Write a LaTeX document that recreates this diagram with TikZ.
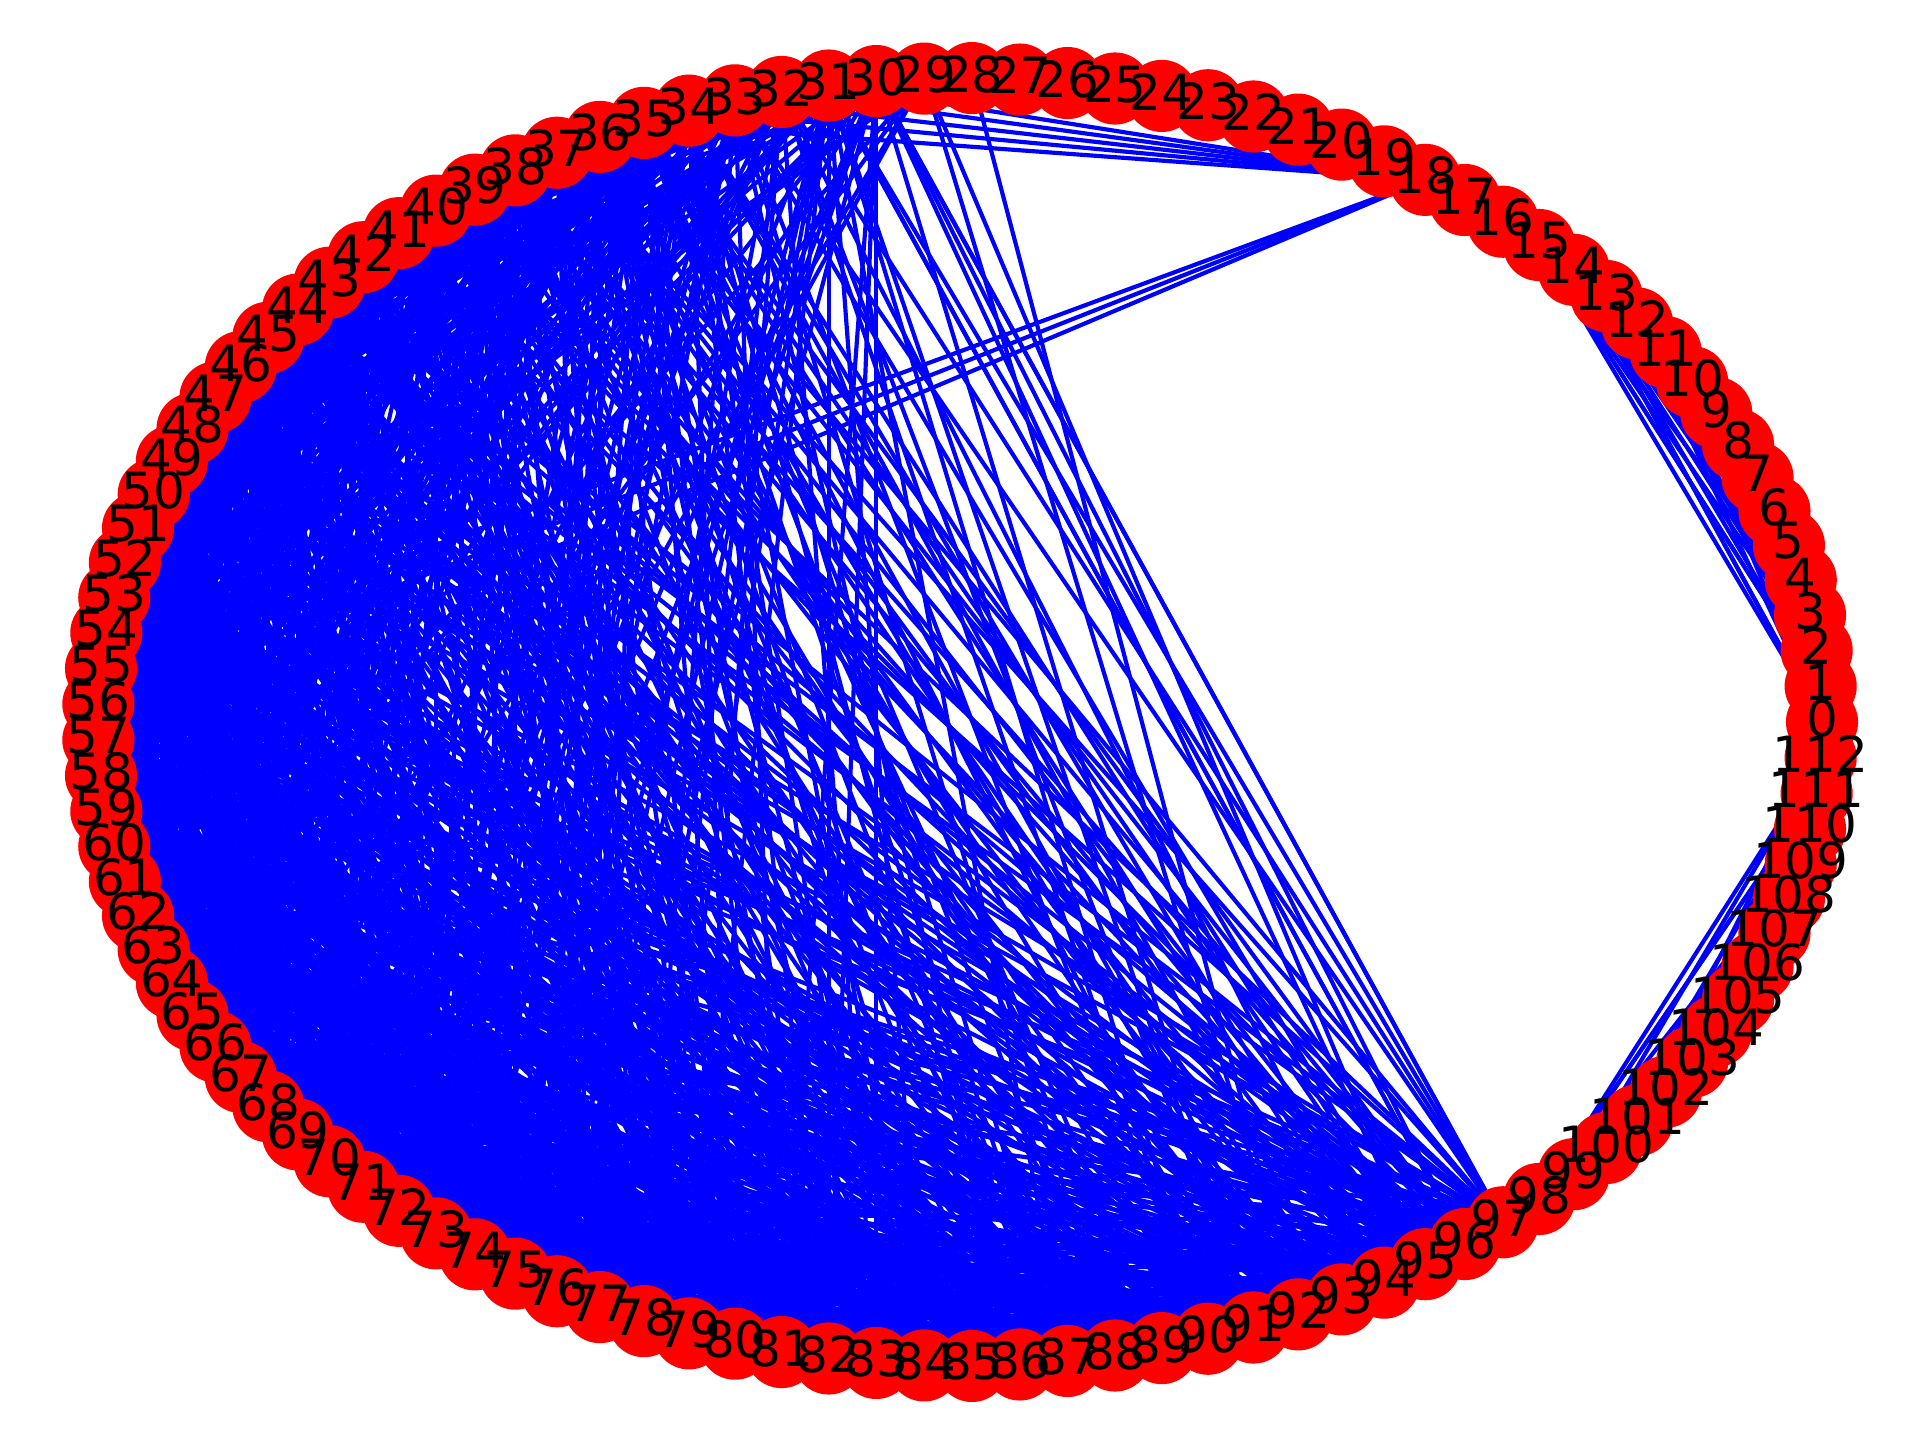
\documentclass[tikz,border=0pt]{standalone}
\usepackage{fontspec}
\setmainfont{DejaVu Sans}

\begin{document}
\begin{tikzpicture}[x=0.2409pt, y=0.2409pt,
  link/.style={blue, line width=1bp},
  vertex/.style={circle, fill=red, inner sep=0pt, minimum size=17.32bp},
  vlabel/.style={inner sep=0pt, font=\fontsize{12bp}{14bp}\selectfont, yshift=1pt}]
  \useasboundingbox (0,0) rectangle (1920,1440);
  \pgfmathsetseed{113}
  % places on the circle
  \foreach \i in {0,...,112}
    \coordinate (v\i) at ({960+862*cos(3.185841*\i)}, {718+644*sin(3.185841*\i)});
  % small groups on the right
  \foreach \a in {0,...,14}{
    \pgfmathtruncatemacro\b{\a+1}
    \foreach \c in {\b,...,15}{
      \pgfmathtruncatemacro\hit{rnd<0.5}
      \ifnum\hit=1 \draw[link] (v\a) -- (v\c); \fi
    }
  }
  \draw[link] (v0) -- (v15);
  \draw[link] (v0) -- (v14);
  \draw[link] (v1) -- (v15);
  \draw[link] (v1) -- (v14);
  \foreach \a in {98,...,111}{
    \pgfmathtruncatemacro\b{\a+1}
    \foreach \c in {\b,...,112}{
      \pgfmathtruncatemacro\hit{rnd<0.5}
      \ifnum\hit=1 \draw[link] (v\a) -- (v\c); \fi
    }
  }
  \draw[link] (v112) -- (v98);
  \draw[link] (v111) -- (v98);
  \draw[link] (v112) -- (v99);
  \foreach \c in {31,...,35} \draw[link] (v18) -- (v\c);
  \foreach \c in {55,56,57} \draw[link] (v18) -- (v\c);
  % top nodes
  \foreach \a in {28,...,37}{
    \pgfmathsetmacro\p{\a<29 ? 0.05 : (\a<30 ? 0.12 : (\a<32 ? 0.3 : 0.45))}
    \foreach \c in {40,...,97}{
      \pgfmathtruncatemacro\hit{rnd<\p}
      \ifnum\hit=1 \draw[link] (v\a) -- (v\c); \fi
    }
  }
  \foreach \a in {30,31}{
    \draw[link] (v\a) -- (v96);
    \draw[link] (v\a) -- (v97);
  }
  % dense block
  \foreach \a in {38,...,96}{
    \pgfmathtruncatemacro\b{\a+1}
    \foreach \c in {\b,...,97}{
      \pgfmathtruncatemacro\hit{rnd<0.5}
      \ifnum\hit=1 \draw[link] (v\a) -- (v\c); \fi
    }
  }
  % nodes, then labels on top
  \foreach \i in {0,...,112}
    \node[vertex] (n\i) at (v\i) {};
  \foreach \i in {0,...,112}
    \node[vlabel] (t\i) at (v\i) {\i};
\end{tikzpicture}
\end{document}
